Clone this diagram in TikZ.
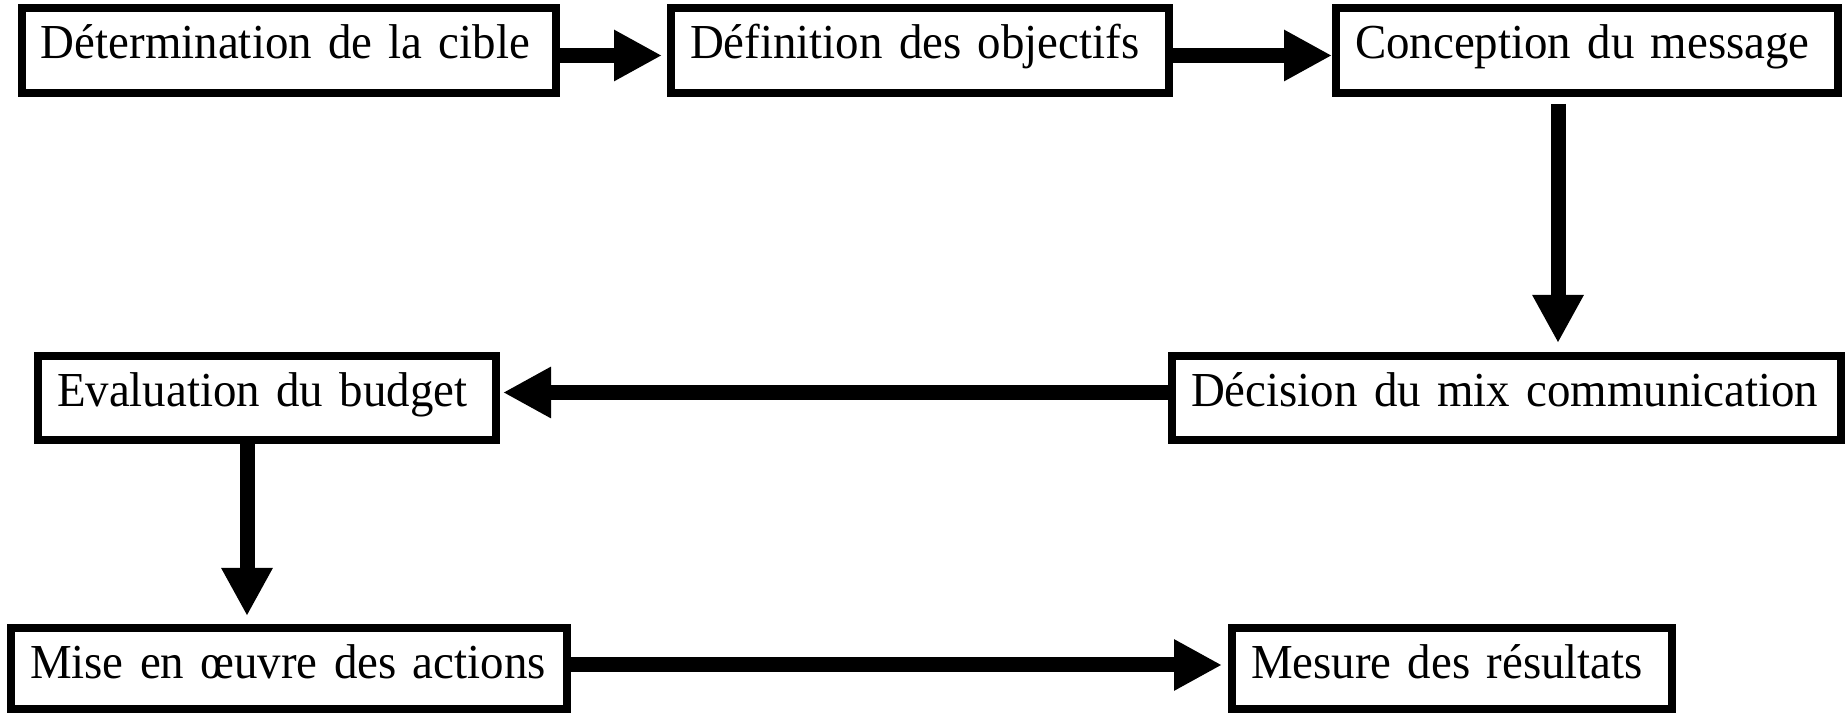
\documentclass[tikz,border=0pt]{standalone}
\usepackage{fontspec}
\setmainfont{Liberation Serif}[FakeStretch=0.96]
\usetikzlibrary{
  arrows.meta,
  calc
}

\begin{document}
\begin{tikzpicture}[
  stage/.style={draw, line width=0.08cm, anchor=north west,
    inner xsep=0.19cm, inner ysep=0.1cm, text height=0.41cm, align=left,
    font=\fontsize{13.9}{16}\selectfont,
    execute at begin node=\hbox\bgroup, execute at end node=\egroup},
  flow/.style={line width=0.15cm, -{Triangle[length=0.48cm, width=0.48cm]}}
]

  \useasboundingbox (0,0) rectangle (18.45,-7.14);

  % top row
  \node[stage, text width=4.96cm, text depth=0.24cm] (cible) at (0.18,-0.04)
    {Détermination de la cible};
  \node[stage, text width=4.60cm, text depth=0.24cm] (objectifs) at (6.67,-0.04)
    {Définition des objectifs};
  \node[stage, text width=4.64cm, text depth=0.24cm] (message) at (13.32,-0.04)
    {Conception du message};

  % middle row
  \node[stage, text width=6.31cm, text depth=0.23cm] (mix) at (11.68,-3.52)
    {Décision du mix communication};
  \node[stage, text width=4.20cm, text depth=0.23cm] (budget) at (0.34,-3.52)
    {Evaluation du budget};

  % bottom row
  \node[stage, text width=5.18cm, text depth=0.20cm] (actions) at (0.07,-6.24)
    {Mise en œuvre des actions};
  \node[stage, text width=4.02cm, text depth=0.20cm] (resultats) at (12.28,-6.24)
    {Mesure des résultats};

  % arrows
  \draw[flow] ([yshift=-0.05cm]cible.east) -- ([shift={(-0.05,-0.05)}]objectifs.west);
  \draw[flow] ([yshift=-0.05cm]objectifs.east) -- ([yshift=-0.05cm]message.west);
  \draw[flow] ($(message.south)+(-0.29,-0.07)$) -- ($(message.south |- mix.north)+(-0.29,0.09)$);
  \draw[flow] ([yshift=0.055cm]mix.west) -- ([shift={(0.03,0.055)}]budget.east);
  \draw[flow] ([xshift=-0.20cm]budget.south) -- ($(budget.south |- actions.north)+(-0.20,0.08)$);
  \draw[flow] ([yshift=0.035cm]actions.east) -- ([shift={(-0.06,0.035)}]resultats.west);

\end{tikzpicture}
\end{document}
